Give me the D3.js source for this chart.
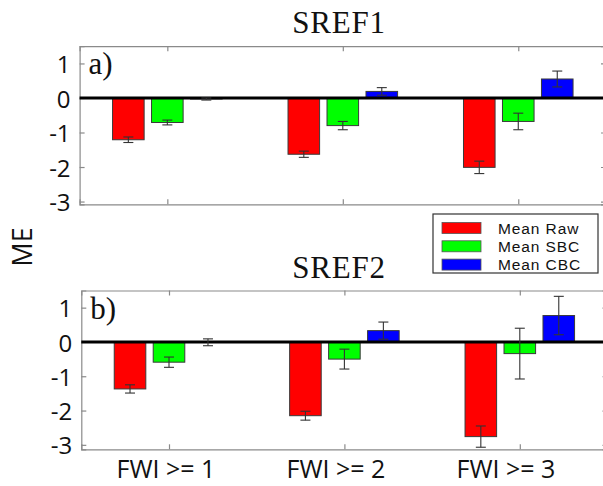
<!DOCTYPE html>
<html>
<head>
<meta charset="utf-8">
<script src="https://cdn.jsdelivr.net/npm/d3@7"></script>
<style>
  html, body { margin: 0; padding: 0; background: #fff; }
  svg { display: block; }
</style>
</head>
<body>
<script>
// Mean error (ME) by FWI threshold for two ensemble systems
const categories = ["FWI >= 1", "FWI >= 2", "FWI >= 3"];
const seriesNames = ["Mean Raw", "Mean SBC", "Mean CBC"];
const seriesColors = ["#ff0000", "#00ff00", "#0000ff"];
const yTicks = [-3, -2, -1, 0, 1];

const sref1Raw = [-1.21, -1.63, -2.01];
const sref1RawErr = [0.08, 0.09, 0.18];
const sref1Sbc = [-0.71, -0.80, -0.68];
const sref1SbcErr = [0.07, 0.12, 0.24];
const sref1Cbc = [-0.03, 0.19, 0.55];
const sref1CbcErr = [0.03, 0.11, 0.23];

const sref2Raw = [-1.37, -2.15, -2.76];
const sref2RawErr = [0.12, 0.13, 0.31];
const sref2Sbc = [-0.59, -0.50, -0.34];
const sref2SbcErr = [0.15, 0.29, 0.74];
const sref2Cbc = [-0.01, 0.33, 0.77];
const sref2CbcErr = [0.10, 0.25, 0.56];

const W = 603, H = 486;
const sansFont = "'Open Sans', 'DejaVu Sans', sans-serif";
const serifFont = "'Liberation Serif', 'DejaVu Serif', serif";

const svg = d3.select("body").append("svg")
  .attr("width", W).attr("height", H)
  .attr("viewBox", `0 0 ${W} ${H}`);

const panels = [
  { title: "SREF1", tag: "a)",
    values: [sref1Raw, sref1Sbc, sref1Cbc], errs: [sref1RawErr, sref1SbcErr, sref1CbcErr],
    x0: 79.6, x1: 606, y0: 46.2, y1: 204.3, yDomain: [-3.08, 1.5], titleY: 33 },
  { title: "SREF2", tag: "b)",
    values: [sref2Raw, sref2Sbc, sref2Cbc], errs: [sref2RawErr, sref2SbcErr, sref2CbcErr],
    x0: 81.3, x1: 607.5, y0: 290.5, y1: 449.3, yDomain: [-3.13, 1.5], titleY: 278 }
];

const groupOffset = 0.2222;   // spacing between bars within a group (x units)
const barWidth = 0.18;        // bar width (x units)

panels.forEach(p => {
  const x = d3.scaleLinear().domain([0.5, 3.5]).range([p.x0, p.x1]);
  const y = d3.scaleLinear().domain(p.yDomain).range([p.y1, p.y0]);
  const g = svg.append("g");

  // title
  svg.append("text")
    .attr("x", 339).attr("y", p.titleY)
    .attr("text-anchor", "middle")
    .attr("font-family", serifFont).attr("font-size", 31)
    .attr("letter-spacing", 0.8)
    .attr("fill", "#111")
    .text(p.title);

  // axes frame: inward ticks on all four sides
  const left = d3.axisLeft(y).tickValues(yTicks).tickSize(-5).tickPadding(9)
    .tickFormat(d => String(d));
  const right = d3.axisRight(y).tickValues(yTicks).tickSize(-5).tickFormat("");
  const bottom = d3.axisBottom(x).tickValues([1, 2, 3]).tickSize(-5).tickFormat("");
  const top = d3.axisTop(x).tickValues([1, 2, 3]).tickSize(-5).tickFormat("");

  const styleAxis = sel => {
    sel.select(".domain").attr("stroke", "#8a8a8a").attr("stroke-width", 1.2);
    sel.selectAll(".tick line").attr("stroke", "#8a8a8a").attr("stroke-width", 1.2);
  };

  g.append("g").attr("transform", `translate(${p.x0},0)`).call(left).call(styleAxis)
    .selectAll("text")
    .attr("font-family", sansFont).attr("font-size", 24).attr("fill", "#111")
    .attr("dy", "0.38em");
  g.append("g").attr("transform", `translate(${p.x1},0)`).call(right).call(styleAxis);
  g.append("g").attr("transform", `translate(0,${p.y1})`).call(bottom).call(styleAxis);
  g.append("g").attr("transform", `translate(0,${p.y0})`).call(top).call(styleAxis);
  g.selectAll(".domain").attr("fill", "none");

  // bars
  const bw = x(barWidth) - x(0);
  p.values.forEach((vals, s) => {
    const cx = i => x(i + 1 + (s - 1) * groupOffset);
    g.selectAll(null).data(vals).enter().append("rect")
      .attr("x", (d, i) => cx(i) - bw / 2)
      .attr("width", bw)
      .attr("y", d => y(Math.max(0, d)))
      .attr("height", d => Math.abs(y(d) - y(0)))
      .attr("fill", seriesColors[s])
      .attr("stroke", "#3a3a3a").attr("stroke-width", 1);
  });

  // zero line
  g.append("line")
    .attr("x1", p.x0).attr("x2", p.x1)
    .attr("y1", y(0)).attr("y2", y(0))
    .attr("stroke", "#000").attr("stroke-width", 3);

  // error bars
  const cap = 5;
  p.values.forEach((vals, s) => {
    const errs = p.errs[s];
    const cx = i => x(i + 1 + (s - 1) * groupOffset);
    const eb = g.selectAll(null).data(vals).enter().append("g")
      .attr("stroke", "#333").attr("stroke-width", 1.1);
    eb.append("line")
      .attr("x1", (d, i) => cx(i)).attr("x2", (d, i) => cx(i))
      .attr("y1", (d, i) => y(d - errs[i])).attr("y2", (d, i) => y(d + errs[i]));
    eb.append("line")
      .attr("x1", (d, i) => cx(i) - cap).attr("x2", (d, i) => cx(i) + cap)
      .attr("y1", (d, i) => y(d - errs[i])).attr("y2", (d, i) => y(d - errs[i]));
    eb.append("line")
      .attr("x1", (d, i) => cx(i) - cap).attr("x2", (d, i) => cx(i) + cap)
      .attr("y1", (d, i) => y(d + errs[i])).attr("y2", (d, i) => y(d + errs[i]));
  });

  // panel tag
  g.append("text")
    .attr("x", p.x0 + 9).attr("y", p.y0 + 28)
    .attr("font-family", serifFont).attr("font-size", 31)
    .attr("fill", "#111")
    .text(p.tag);
});

// category labels under the lower panel
const labelX = d3.scaleLinear().domain([0, 2]).range([166, 506]);
svg.selectAll(".cat").data(categories).enter().append("text")
  .attr("class", "cat")
  .attr("x", (d, i) => labelX(i)).attr("y", 478)
  .attr("text-anchor", "middle")
  .attr("font-family", sansFont).attr("font-size", 25)
  .attr("fill", "#111")
  .text(d => d);

// y-axis title
svg.append("text")
  .attr("transform", "translate(32,247) rotate(-90)")
  .attr("text-anchor", "middle")
  .attr("font-family", sansFont).attr("font-size", 27)
  .attr("fill", "#111")
  .text("ME");

// legend
const lg = svg.append("g").attr("transform", "translate(433,214)");
lg.append("rect")
  .attr("width", 165).attr("height", 59)
  .attr("fill", "#fff").attr("stroke", "#333").attr("stroke-width", 1.2);
seriesNames.forEach((name, i) => {
  const ry = 14 + i * 18.3;
  lg.append("rect")
    .attr("x", 9).attr("y", ry - 5.5).attr("width", 39).attr("height", 11)
    .attr("fill", seriesColors[i]).attr("stroke", "#555").attr("stroke-width", 0.8);
  lg.append("text")
    .attr("x", 65).attr("y", ry).attr("dy", "0.36em")
    .attr("font-family", "'Liberation Sans', Arial, sans-serif").attr("font-size", 15.5)
    .attr("letter-spacing", 0.9)
    .attr("fill", "#111")
    .text(name);
});
</script>
</body>
</html>
